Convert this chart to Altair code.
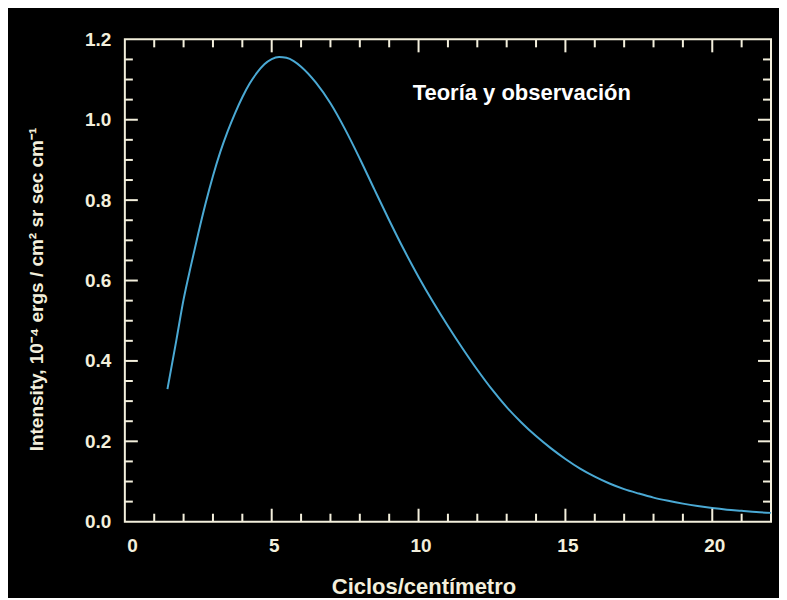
import altair as alt
import pandas as pd

# Curve (wavenumber in cycles/cm, intensity)
wavenumber = [1.45, 1.75, 2.0, 2.25, 2.5, 2.75, 3.0, 3.25, 3.5, 3.75, 4.0, 4.25, 4.5, 4.75,
              5.0, 5.25, 5.5, 5.75, 6.0, 6.5, 7.0, 7.5, 8.0, 8.5, 9.0, 9.5, 10.0, 10.5,
              11.0, 11.5, 12.0, 12.5, 13.0, 13.5, 14.0, 14.5, 15.0, 15.5, 16.0, 16.5,
              17.0, 17.5, 18.0, 18.5, 19.0, 19.5, 20.0, 20.5, 21.0, 21.5, 22.0]
intensity = [0.33, 0.45, 0.553, 0.637, 0.717, 0.792, 0.86, 0.92, 0.971, 1.016, 1.056, 1.09, 1.117, 1.138,
             1.151, 1.156, 1.154, 1.146, 1.132, 1.093, 1.041, 0.976, 0.903, 0.826, 0.75, 0.677, 0.609, 0.546,
             0.487, 0.431, 0.378, 0.329, 0.285, 0.247, 0.213, 0.183, 0.156, 0.132, 0.112, 0.095,
             0.081, 0.07, 0.06, 0.052, 0.045, 0.039, 0.034, 0.03, 0.027, 0.024, 0.022]

x_ticks = [0, 5, 10, 15, 20]
y_ticks = [0.0, 0.2, 0.4, 0.6, 0.8, 1.0, 1.2]
x_minor = [1, 2, 3, 4, 6, 7, 8, 9, 11, 12, 13, 14, 16, 17, 18, 19, 21]
x_major = [5, 10, 15, 20]
y_minor = [0.05, 0.1, 0.15, 0.25, 0.3, 0.35, 0.45, 0.5, 0.55, 0.65, 0.7, 0.75,
           0.85, 0.9, 0.95, 1.05, 1.1, 1.15]
y_major = [0.2, 0.4, 0.6, 0.8, 1.0]

note_text = ["Teoría y observación"]
note_x = [9.8]
note_y = [1.066]

W, H = 647, 483
CREAM = "#f3efdc"
FONT = "Liberation Sans"

xaxis = alt.Axis(values=x_ticks, ticks=False, domain=False, grid=False,
                 labelFontSize=19, labelFontWeight="bold", labelColor=CREAM, labelFont=FONT,
                 labelPadding=15, labelOffset=2,
                 title="Ciclos/centímetro", titleFont=FONT, titleFontSize=22,
                 titleFontWeight="bold", titleColor=CREAM, titleX=299, titleY=72,
                 titleAlign="center", titleBaseline="alphabetic")
yaxis = alt.Axis(values=y_ticks, format=".1f", ticks=False, domain=False, grid=False,
                 labelFontSize=19, labelFontWeight="bold", labelColor=CREAM, labelFont=FONT,
                 labelPadding=14,
                 title="Intensity, 10⁻⁴ ergs / cm² sr sec cm⁻¹", titleFont=FONT, titleFontSize=19,
                 titleFontWeight="bold", titleColor=CREAM, titleX=-88, titleY=250,
                 titleAlign="center", titleBaseline="middle", titleAngle=-90)

X = alt.X("x:Q", scale=alt.Scale(domain=[0, 22], nice=False, zero=False), axis=xaxis)
Y = alt.Y("y:Q", scale=alt.Scale(domain=[0, 1.2], nice=False), axis=yaxis)

curve = alt.Chart(pd.DataFrame({"x": wavenumber, "y": intensity})).mark_line(
    color="#4aa9d4", strokeWidth=2, interpolate="monotone").encode(x=X, y=Y)

def xt(vals, length, top):
    df = pd.DataFrame({"x": vals})
    if top:
        enc = dict(y=alt.value(0), y2=alt.value(length))
    else:
        enc = dict(y=alt.value(H), y2=alt.value(H - length))
    return alt.Chart(df).mark_rule(color=CREAM, strokeWidth=2).encode(x=X, **enc)

def yt(vals, length, right):
    df = pd.DataFrame({"y": vals})
    if right:
        enc = dict(x=alt.value(W), x2=alt.value(W - length))
    else:
        enc = dict(x=alt.value(0), x2=alt.value(length))
    return alt.Chart(df).mark_rule(color=CREAM, strokeWidth=2).encode(y=Y, **enc)

ticks = [xt(x_minor, 8, False), xt(x_major, 13, False), xt(x_minor, 8, True), xt(x_major, 13, True),
         yt(y_minor, 8, False), yt(y_major, 13, False), yt(y_minor, 8, True), yt(y_major, 13, True)]

note = alt.Chart(pd.DataFrame({"x": note_x, "y": note_y, "t": note_text})).mark_text(
    align="left", baseline="middle", font=FONT, fontSize=22, fontWeight="bold", color="#ffffff"
).encode(x=X, y=Y, text="t:N")

chart = alt.layer(curve, *ticks, note).properties(
    width=W, height=H,
    autosize=alt.AutoSizeParams(type="none"),
    padding={"left": 117, "top": 31, "right": 8, "bottom": 76},
    background="#000000",
).configure_view(stroke=CREAM, strokeWidth=2, fill="#000000")

chart.save("out.html", embed_options={"renderer": "svg", "actions": False})
